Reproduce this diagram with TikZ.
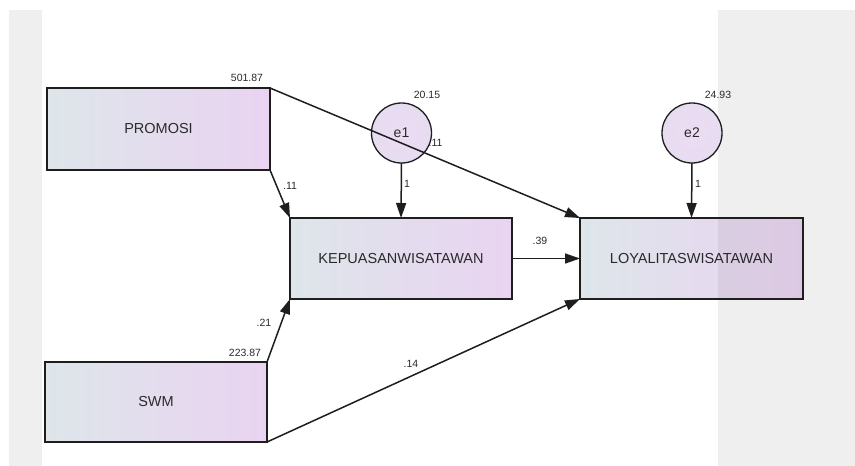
\documentclass[tikz,border=0pt]{standalone}
\usepackage{fontspec}
\setmainfont{Liberation Sans}
\usetikzlibrary{arrows.meta}
\definecolor{bggray}{HTML}{EFEFEF}
\definecolor{txt}{HTML}{2A2A2A}
\definecolor{ln}{HTML}{1E1E1E}
\definecolor{gleft}{HTML}{DEE6EA}
\definecolor{gright}{HTML}{E9D3F1}
\definecolor{cfill}{HTML}{E6DCF0}
\tikzset{
  varbox/.style={draw=ln, line width=1.5pt, left color=gleft, right color=gright,
    minimum width=#1, minimum height=81pt, inner sep=0pt, outer sep=0pt,
    text=txt, font=\fontsize{14.5}{16}\selectfont},
  errc/.style={circle, draw=ln, line width=1.3pt, inner color=gright!80!white, outer color=cfill,
    minimum size=60pt, inner sep=0pt, outer sep=0pt, text=txt, font=\fontsize{14}{16}\selectfont},
  path/.style={draw=ln, line width=1.5pt, -{Triangle[length=15pt,width=10pt]}},
  numlbl/.style={text=txt, font=\fontsize{10.5}{11}\selectfont, inner sep=0pt},
}
\begin{document}
\begin{tikzpicture}[x=1pt,y=-1pt]
\useasboundingbox (0,0) rectangle (855,466);
\fill[white] (0,0) rectangle (855,466);
\fill[bggray] (9,10) rectangle (42,466);
\fill[bggray] (718,10) rectangle (855,466);

% variables
\node[varbox=223pt, minimum height=82pt] (promosi) at (158.5,129) {PROMOSI};
\node[varbox=222pt, minimum height=80pt] (swm) at (156,402) {SWM};
\node[varbox=222pt] (kep) at (401,258.5) {KEPUASANWISATAWAN};
\node[varbox=223pt] (loyal) at (691.5,258.5) {LOYALITASWISATAWAN};
\fill[black, opacity=0.05] (718,218.7) rectangle (802.3,298.3);

% label partly hidden by e1
\node[numlbl, anchor=west] (l11b) at (428.5,143) {.11};

% error terms
\node[errc] (e1) at (401.5,133) {e1};
\node[errc] (e2) at (692,133) {e2};

% paths
\draw[path] (promosi.north east) -- (loyal.north west);
\draw[path] (promosi.south east) -- (kep.north west);
\draw[path] (e1.south) -- (kep.north);
\draw[path] (e2.south) -- (loyal.north);
\draw[path] (kep.east) -- (loyal.west);
\draw[path] (swm.north east) -- (kep.south west);
\draw[path] (swm.south east) -- (loyal.south west);

% numeric labels
\node[numlbl] (v1) at (247,78) {501.87};
\node[numlbl] (v2) at (427,95) {20.15};
\node[numlbl] (v3) at (718,95) {24.93};
\node[numlbl] (v4) at (245,353) {223.87};
\node[numlbl] (w1) at (290,186) {.11};
\node[numlbl] (w2) at (407,184) {1};
\node[numlbl] (w3) at (698,184) {1};
\node[numlbl] (w4) at (540,241) {.39};
\node[numlbl] (w5) at (264,323) {.21};
\node[numlbl] (w6) at (411,364) {.14};
\end{tikzpicture}
\end{document}
